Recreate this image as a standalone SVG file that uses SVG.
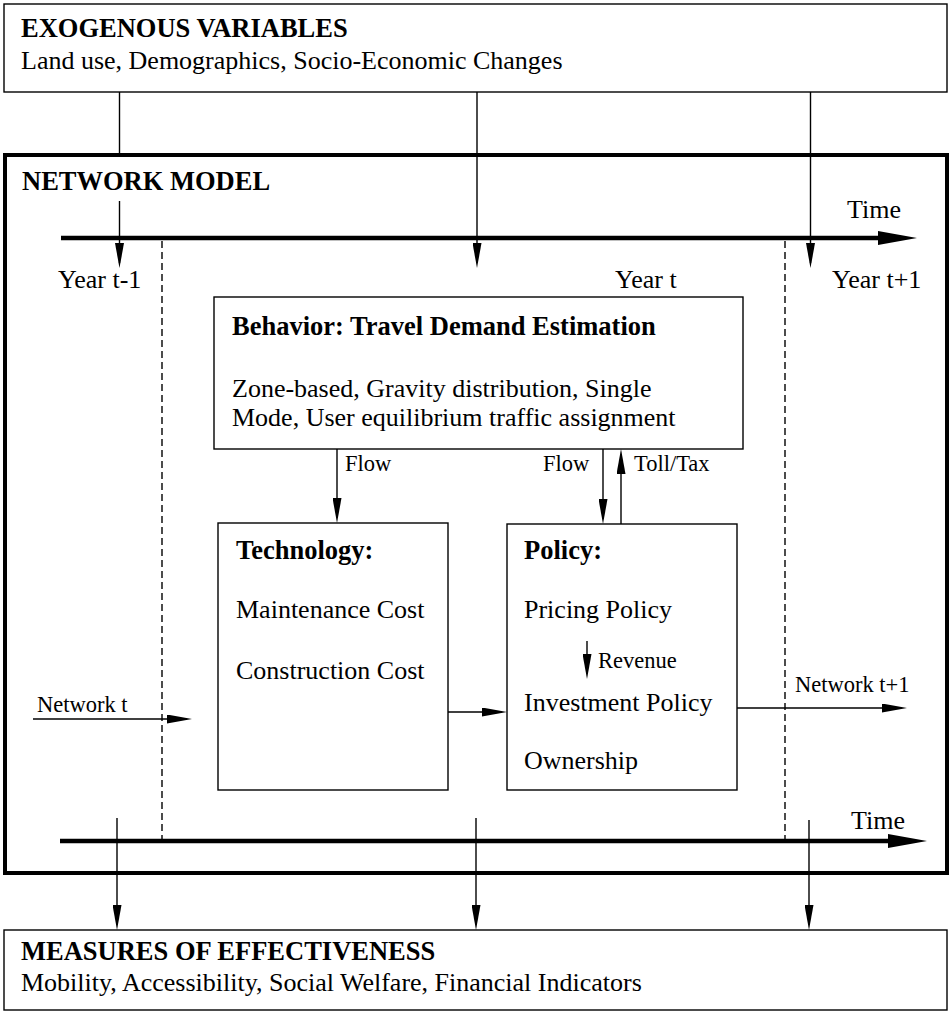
<svg xmlns="http://www.w3.org/2000/svg" width="950" height="1013" viewBox="0 0 950 1013">
<defs>
<style>
text{font-family:"Liberation Serif","Times New Roman",serif;fill:#000}
.t{font-size:26px}
.b{font-size:26.5px;font-weight:bold}
.s{font-size:22.5px}
.box{fill:#fff;stroke:#000;stroke-width:1.4}
.ln{stroke:#000;stroke-width:1.4;fill:none}
.ar{stroke:#000;stroke-width:1.4;fill:none;marker-end:url(#ah)}
.axis{stroke:#000;stroke-width:4.5;fill:none;marker-end:url(#axh)}
.dash{stroke:#000;stroke-width:1.4;fill:none;stroke-dasharray:7,4}
</style>
<marker id="ah" markerUnits="userSpaceOnUse" markerWidth="25" markerHeight="9" refX="20" refY="4.5" orient="auto"><path d="M0,0 L25,4.5 L0,9 z" fill="#000"/></marker>
<marker id="axh" markerUnits="userSpaceOnUse" markerWidth="39" markerHeight="14" refX="19" refY="7" orient="auto"><path d="M0,0 L39,7 L0,14 z" fill="#000"/></marker>
</defs>
<rect width="950" height="1013" fill="#fff"/>

<g id="exogenous">
<rect class="box" x="4" y="4" width="943" height="88"/>
<text class="b" x="21" y="37">EXOGENOUS VARIABLES</text>
<text class="t" x="21" y="69">Land use, Demographics, Socio-Economic Changes</text>
</g>

<g id="network-model">
<rect x="5" y="155" width="942" height="718" fill="none" stroke="#000" stroke-width="4"/>
<text class="b" x="22" y="190">NETWORK MODEL</text>
</g>

<g id="timeline">
<line class="axis" x1="61" y1="238" x2="897" y2="238"/>
<text class="t" x="847" y="218">Time</text>
<line class="axis" x1="60" y1="841" x2="907" y2="841"/>
<text class="t" x="851" y="829">Time</text>
<line class="dash" x1="162" y1="241" x2="162" y2="839"/>
<line class="dash" x1="785" y1="241" x2="785" y2="839"/>
<text class="t" x="58" y="288">Year t-1</text>
<text class="t" x="615" y="288">Year t</text>
<text class="t" x="832" y="288">Year t+1</text>
</g>

<g id="behavior">
<rect class="box" x="214" y="297" width="529" height="152"/>
<text class="b" x="232" y="335">Behavior: Travel Demand Estimation</text>
<text class="t" x="232" y="397">Zone-based, Gravity distribution, Single</text>
<text class="t" x="232" y="426">Mode, User equilibrium traffic assignment</text>
</g>

<g id="technology">
<rect class="box" x="218" y="523" width="230" height="267"/>
<text class="b" x="236" y="559">Technology:</text>
<text class="t" x="236" y="618">Maintenance Cost</text>
<text class="t" x="236" y="679">Construction Cost</text>
</g>

<g id="policy">
<rect class="box" x="507" y="524" width="230" height="266"/>
<text class="b" x="524" y="559">Policy:</text>
<text class="t" x="524" y="618">Pricing Policy</text>
<text class="t" x="524" y="711">Investment Policy</text>
<text class="t" x="524" y="769">Ownership</text>
</g>

<g id="measures">
<rect class="box" x="4" y="930" width="943" height="80"/>
<text class="b" x="21" y="960">MEASURES OF EFFECTIVENESS</text>
<text class="t" x="21" y="991">Mobility, Accessibility, Social Welfare, Financial Indicators</text>
</g>

<g id="connectors">
<line class="ln" x1="119.5" y1="92" x2="119.5" y2="156"/>
<line class="ar" x1="119.5" y1="201" x2="119.5" y2="263"/>
<line class="ar" x1="477" y1="92" x2="477" y2="263"/>
<line class="ar" x1="810.5" y1="92" x2="810.5" y2="263"/>

<line class="ar" x1="337" y1="449" x2="337" y2="518"/>
<text class="s" x="345" y="471">Flow</text>
<line class="ar" x1="603" y1="449" x2="603" y2="519"/>
<text class="s" x="543" y="471">Flow</text>
<line class="ar" x1="621" y1="524" x2="621" y2="454"/>
<text class="s" x="634" y="471">Toll/Tax</text>

<line class="ar" x1="587" y1="641" x2="587" y2="674"/>
<text class="s" x="598" y="668">Revenue</text>

<line class="ar" x1="448" y1="712" x2="502" y2="712"/>

<line class="ar" x1="33" y1="719" x2="187" y2="719"/>
<text class="s" x="37" y="712">Network t</text>
<line class="ar" x1="737" y1="708" x2="902" y2="708"/>
<text class="s" x="795" y="692">Network t+1</text>

<line class="ar" x1="117" y1="818" x2="117" y2="925"/>
<line class="ar" x1="476" y1="818" x2="476" y2="925"/>
<line class="ar" x1="809" y1="820" x2="809" y2="925"/>
</g>
</svg>
